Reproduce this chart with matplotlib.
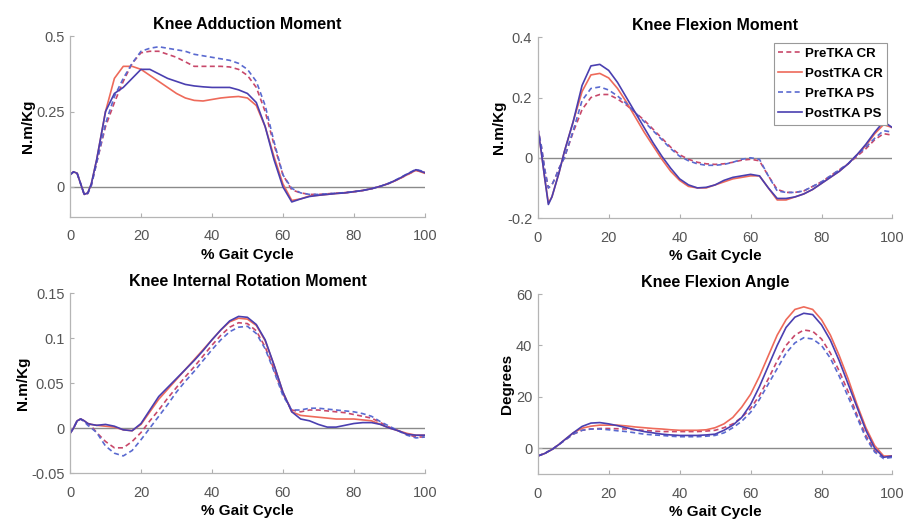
import numpy as np
import matplotlib
matplotlib.use("Agg")
import matplotlib.pyplot as plt

plt.rcParams['font.family'] = ['Liberation Sans', 'DejaVu Sans']

gait = [0, 1, 2, 3, 4, 5, 6, 7.5, 10, 12.5, 15, 17.5, 20, 22.5, 25, 27.5, 30, 32.5,
        35, 37.5, 40, 42.5, 45, 47.5, 50, 52.5, 55, 57.5, 60, 62.5, 65, 67.5, 70,
        72.5, 75, 77.5, 80, 82.5, 85, 87.5, 90, 92.5, 95, 97.5, 100]

series_names = ["PreTKA CR", "PostTKA CR", "PreTKA PS", "PostTKA PS"]

# Knee Adduction Moment
add_pre_cr = [0.04, 0.05, 0.045, 0.01, -0.025, -0.022, 0.005, 0.08, 0.2, 0.28, 0.35, 0.41, 0.445,
              0.45, 0.45, 0.44, 0.43, 0.415, 0.40, 0.40, 0.40, 0.40, 0.398, 0.39, 0.37, 0.33,
              0.25, 0.14, 0.04, -0.01, -0.02, -0.025, -0.025, -0.023, -0.021, -0.019, -0.016,
              -0.012, -0.006, 0.002, 0.012, 0.025, 0.04, 0.055, 0.048]
add_post_cr = [0.04, 0.05, 0.045, 0.01, -0.025, -0.02, 0.01, 0.09, 0.25, 0.36, 0.40, 0.40, 0.39,
               0.37, 0.35, 0.33, 0.31, 0.295, 0.287, 0.285, 0.29, 0.295, 0.298, 0.30, 0.295,
               0.27, 0.2, 0.1, 0.01, -0.045, -0.04, -0.03, -0.028, -0.025, -0.022, -0.02,
               -0.016, -0.012, -0.006, 0.002, 0.012, 0.025, 0.04, 0.055, 0.045]
add_pre_ps = [0.04, 0.05, 0.045, 0.01, -0.025, -0.022, 0.005, 0.08, 0.21, 0.30, 0.36, 0.41, 0.45,
              0.46, 0.465, 0.46, 0.455, 0.45, 0.44, 0.435, 0.43, 0.425, 0.42, 0.41, 0.39, 0.35,
              0.27, 0.15, 0.04, -0.005, -0.02, -0.025, -0.025, -0.023, -0.021, -0.019, -0.016,
              -0.012, -0.006, 0.002, 0.013, 0.027, 0.043, 0.058, 0.05]
add_post_ps = [0.04, 0.05, 0.045, 0.01, -0.025, -0.02, 0.01, 0.09, 0.25, 0.31, 0.33, 0.36, 0.39,
               0.39, 0.375, 0.36, 0.35, 0.34, 0.335, 0.332, 0.33, 0.33, 0.33, 0.322, 0.31,
               0.28, 0.2, 0.09, 0.0, -0.05, -0.04, -0.032, -0.028, -0.025, -0.022, -0.02,
               -0.016, -0.012, -0.006, 0.002, 0.012, 0.026, 0.042, 0.057, 0.047]

# Knee Flexion Moment
flx_pre_cr = [0.1, 0.04, -0.04, -0.1, -0.09, -0.065, -0.035, 0.0, 0.085, 0.16, 0.2, 0.21, 0.21,
              0.195, 0.175, 0.15, 0.125, 0.095, 0.065, 0.035, 0.01, -0.005, -0.015, -0.02,
              -0.022, -0.02, -0.015, -0.008, -0.005, -0.01, -0.06, -0.105, -0.115, -0.115,
              -0.11, -0.095, -0.08, -0.06, -0.04, -0.02, 0.005, 0.03, 0.06, 0.08, 0.075]
flx_post_cr = [0.1, 0.02, -0.07, -0.15, -0.13, -0.09, -0.05, 0.02, 0.12, 0.22, 0.275, 0.28,
               0.265, 0.23, 0.185, 0.135, 0.085, 0.04, -0.005, -0.045, -0.075, -0.095, -0.1,
               -0.1, -0.09, -0.08, -0.07, -0.065, -0.06, -0.06, -0.1, -0.14, -0.14, -0.13,
               -0.12, -0.105, -0.085, -0.065, -0.045, -0.02, 0.01, 0.04, 0.08, 0.11, 0.1]
flx_pre_ps = [0.1, 0.04, -0.04, -0.1, -0.09, -0.065, -0.035, 0.0, 0.09, 0.19, 0.23, 0.235, 0.225,
              0.205, 0.18, 0.15, 0.12, 0.09, 0.06, 0.03, 0.005, -0.01, -0.02, -0.025, -0.025,
              -0.022, -0.015, -0.005, 0.0, -0.005, -0.06, -0.11, -0.115, -0.115, -0.11, -0.095,
              -0.08, -0.06, -0.04, -0.02, 0.01, 0.035, 0.065, 0.09, 0.085]
flx_post_ps = [0.1, 0.02, -0.07, -0.155, -0.13, -0.09, -0.05, 0.02, 0.12, 0.24, 0.305, 0.31,
               0.29, 0.25, 0.2, 0.15, 0.1, 0.05, 0.005, -0.035, -0.07, -0.09, -0.1, -0.098,
               -0.09, -0.075, -0.065, -0.06, -0.055, -0.06, -0.1, -0.135, -0.135, -0.13, -0.12,
               -0.105, -0.085, -0.065, -0.045, -0.02, 0.01, 0.045, 0.085, 0.12, 0.1]

# Knee Internal Rotation Moment
rot_pre_cr = [-0.006, 0.0, 0.008, 0.01, 0.008, 0.005, 0.002, -0.005, -0.015, -0.022, -0.022,
              -0.015, -0.005, 0.008, 0.02, 0.033, 0.045, 0.057, 0.068, 0.08, 0.092, 0.103,
              0.112, 0.117, 0.116, 0.108, 0.09, 0.065, 0.038, 0.02, 0.018, 0.02, 0.02, 0.019,
              0.018, 0.017, 0.015, 0.013, 0.011, 0.006, 0.001, -0.003, -0.007, -0.01, -0.01]
rot_post_cr = [-0.006, 0.0, 0.008, 0.01, 0.008, 0.005, 0.004, 0.003, 0.002, 0.001, -0.002,
               -0.003, 0.004, 0.018, 0.032, 0.043, 0.054, 0.065, 0.076, 0.087, 0.098, 0.109,
               0.118, 0.122, 0.121, 0.114, 0.097, 0.07, 0.04, 0.018, 0.014, 0.013, 0.012,
               0.011, 0.01, 0.01, 0.01, 0.009, 0.008, 0.004, 0.0, -0.003, -0.006, -0.008, -0.008]
rot_pre_ps = [-0.006, 0.0, 0.008, 0.01, 0.007, 0.003, 0.0, -0.005, -0.02, -0.028, -0.031,
              -0.025, -0.013, 0.0, 0.013, 0.026, 0.04, 0.052, 0.063, 0.075, 0.087, 0.098,
              0.107, 0.112, 0.113, 0.105, 0.088, 0.063, 0.036, 0.02, 0.02, 0.022, 0.022,
              0.021, 0.02, 0.019, 0.018, 0.016, 0.013, 0.007, 0.002, -0.003, -0.008, -0.011, -0.01]
rot_post_ps = [-0.006, 0.0, 0.008, 0.01, 0.008, 0.005, 0.004, 0.003, 0.004, 0.002, -0.002,
               -0.003, 0.005, 0.02, 0.035, 0.045, 0.055, 0.065, 0.075, 0.086, 0.098, 0.109,
               0.119, 0.124, 0.123, 0.115, 0.098, 0.07, 0.04, 0.018, 0.01, 0.008, 0.004, 0.001,
               0.001, 0.003, 0.005, 0.006, 0.006, 0.004, 0.0, -0.003, -0.007, -0.008, -0.008]

# Knee Flexion Angle
ang_pre_cr = [-3, -2.5, -2, -1.2, -0.5, 0.5, 1.5, 3, 5.5, 7, 7.5, 7.7, 7.7, 7.6, 7.5, 7.2, 7,
              6.7, 6.5, 6.5, 6.5, 6.5, 6.5, 6.7, 7, 8, 9.5, 12, 15.5, 20.5, 27, 34, 40, 44, 46,
              45.5, 42.5, 37, 30, 22, 13, 5, -1, -3.5, -3]
ang_post_cr = [-3, -2.5, -2, -1.2, -0.5, 0.5, 1.5, 3.2, 6, 7.8, 8.6, 9, 9, 9, 8.7, 8.3, 8,
               7.7, 7.5, 7.2, 7, 7, 7, 7.2, 8, 9.5, 12, 16, 21, 28, 36, 44, 50, 54, 55, 54, 50,
               44, 36, 27, 17, 8, 1, -3, -3]
ang_pre_ps = [-3, -2.5, -2, -1.2, -0.5, 0.5, 1.5, 3, 5.5, 7, 7.5, 7.5, 7.2, 6.8, 6.5, 6, 5.5,
              5.2, 5, 4.7, 4.5, 4.5, 4.5, 4.7, 5, 6, 8, 10.5, 14, 19, 25, 31, 37, 41, 43, 42.5,
              40, 35, 28, 20, 12, 4, -1.5, -4, -3.5]
ang_post_ps = [-3, -2.5, -2, -1.2, -0.5, 0.5, 1.5, 3.2, 6, 8.5, 9.8, 10, 9.5, 8.8, 8, 7.2, 6.5,
               6, 5.5, 5.2, 5, 5, 5, 5.2, 5.5, 7, 9, 12, 17, 24, 32, 40, 47, 51, 52.5, 52, 48,
               42, 34, 25, 16, 7, 0, -3.5, -3]

panels = [
    ("Knee Adduction Moment", "N.m/Kg", (-0.1, 0.5), [0, 0.25, 0.5], ["0", "0.25", "0.5"],
     [add_pre_cr, add_post_cr, add_pre_ps, add_post_ps]),
    ("Knee Flexion Moment", "N.m/Kg", (-0.2, 0.4), [-0.2, 0, 0.2, 0.4], ["-0.2", "0", "0.2", "0.4"],
     [flx_pre_cr, flx_post_cr, flx_pre_ps, flx_post_ps]),
    ("Knee Internal Rotation Moment", "N.m/Kg", (-0.05, 0.15), [-0.05, 0, 0.05, 0.1, 0.15],
     ["-0.05", "0", "0.05", "0.1", "0.15"],
     [rot_pre_cr, rot_post_cr, rot_pre_ps, rot_post_ps]),
    ("Knee Flexion Angle", "Degrees", (-10, 60), [0, 20, 40, 60], ["0", "20", "40", "60"],
     [ang_pre_cr, ang_post_cr, ang_pre_ps, ang_post_ps]),
]

colors = ['#c8486a', '#ee6a5a', '#5a6ad0', '#4a3fb0']
styles = ['--', '-', '--', '-']

fig = plt.figure(figsize=(9.12, 5.21), dpi=100)
positions = [
    [0.0768, 0.5835, 0.389, 0.347],
    [0.5896, 0.5815, 0.389, 0.347],
    [0.0768, 0.0921, 0.389, 0.3455],
    [0.5896, 0.0902, 0.389, 0.3455],
]

xt = [0, 20, 40, 60, 80, 100]
for i, (title, ylab, ylim, yt, ytl, data) in enumerate(panels):
    ax = fig.add_axes(positions[i])
    ax.axhline(0, color='#8a8a8a', lw=1.0, zorder=1)
    for d, c, ls, name in zip(data, colors, styles, series_names):
        ax.plot(gait, d, color=c, ls=ls, lw=1.2, label=name, zorder=2,
                dashes=(3, 2) if ls == '--' else (None, None))
    ax.set_xlim(0, 100)
    ax.set_ylim(*ylim)
    ax.set_xticks(xt)
    ax.set_xticklabels([str(v) for v in xt])
    ax.set_yticks(yt)
    ax.set_yticklabels(ytl)
    ax.tick_params(direction='in', length=3, width=0.8, colors='#b0b0b0',
                   labelcolor='#555555', labelsize=10.5, pad=4)
    ax.tick_params(axis='x', pad=9)
    for s in ['top', 'right']:
        ax.spines[s].set_visible(False)
    for s in ['left', 'bottom']:
        ax.spines[s].set_color('#b5b5b5')
        ax.spines[s].set_linewidth(0.9)
    ax.set_title(title, fontsize=11.5, fontweight='bold', pad=5)
    ax.set_xlabel("% Gait Cycle", fontsize=11, fontweight='bold', labelpad=3)
    ax.set_ylabel(ylab, fontsize=11, fontweight='bold', labelpad=1)
    if i == 1:
        leg = ax.legend(loc='upper right', bbox_to_anchor=(0.985, 0.97),
                        prop={'weight': 'bold', 'size': 9.5}, handlelength=1.8,
                        handletextpad=0.2, borderpad=0.35, labelspacing=0.6,
                        fancybox=False, framealpha=1, edgecolor='#999999',
                        borderaxespad=0.0)
        leg.get_frame().set_linewidth(0.8)

fig.savefig("out.png", dpi=100)
